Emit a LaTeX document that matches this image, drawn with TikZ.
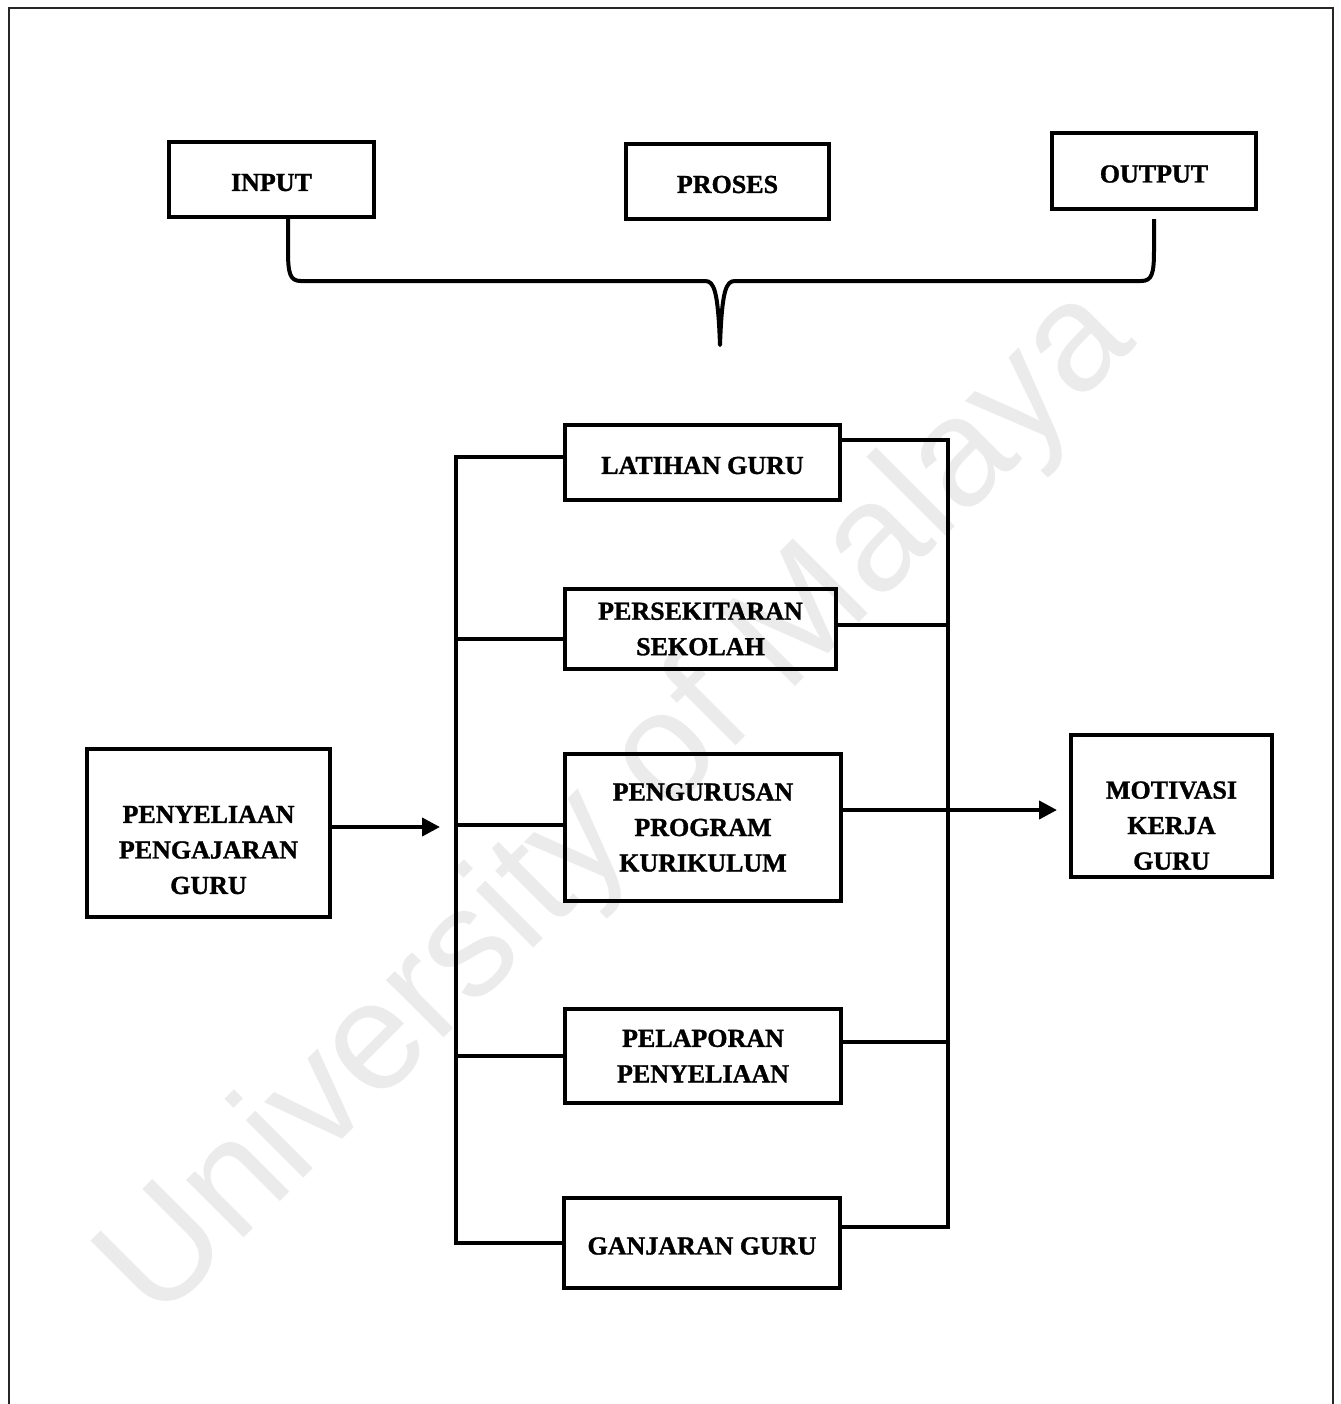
\documentclass[tikz,border=0pt]{standalone}
\usepackage{fontspec}
\setmainfont{Liberation Serif}[BoldFeatures={FakeBold=1.2}]
\newfontfamily\wmfont{Liberation Sans}
\usetikzlibrary{arrows.meta,calc}
% strut that lowers the first text line a little inside its box
\newcommand\boxstrut{\rule{0pt}{11.6pt}}
\begin{document}
\begin{tikzpicture}[x=0.5pt,y=-0.5pt,
  boxtext/.style={align=center,font=\fontsize{13}{17.75}\selectfont\bfseries},
  box/.style={draw,line width=2pt,inner sep=0pt,boxtext,execute at begin node=\boxstrut},
  bus/.style={line width=2pt,line join=miter},
  arr/.style={line width=2pt,-{Triangle[length=9pt,width=9pt]}},
  brace/.style={line width=2pt,line join=round},
  frame/.style={line width=1pt,draw=black!85}]
\useasboundingbox (0,0) rectangle (1340,1404);

% faint diagonal watermark behind everything
\node[font=\wmfont\fontsize{77}{77}\selectfont,text=black!8,rotate=45,
      anchor=base,inner sep=0pt] (wm) at (648,834) {University of Malaya};

% page frame (open at the bottom)
\draw[frame] (9,1410) -- (9,8) -- (1333,8) -- (1333,1410);

% top row
\node[box,minimum width=102.5pt,minimum height=37.5pt] (inp) at (271.5,179.5) {INPUT};
\node[box,minimum width=101.5pt,minimum height=37.5pt] (pro) at (727.5,181.5) {PROSES};
\node[box,minimum width=102pt,minimum height=38pt] (out) at (1154,171) {OUTPUT};

% grouping brace under the top row
\coordinate (bs) at ([xshift=8.25pt]inp.south);
\coordinate (be) at ([yshift=-4pt]out.south);
\coordinate (tip) at (720,345);
\draw[brace] (bs) -- (288,250) .. controls (288,274) and (290,281) .. (301,281)
  -- (705,281) .. controls (714,281) and (718,290) .. (tip)
  .. controls (722,290) and (726,281) .. (735,281)
  -- (1141,281) .. controls (1152,281) and (1154,274) .. (1154,250) -- (be);

% middle column
\node[box,minimum width=137.5pt,minimum height=37.5pt] (lat) at (702.5,462.5) {LATIHAN GURU};
\node[box,minimum width=135.5pt,minimum height=40pt] (per) at (700.5,629) {PERSEKITARAN\\SEKOLAH};
\node[box,minimum width=138pt,minimum height=73.5pt] (pgr) at (703,827.5) {PENGURUSAN\\PROGRAM\\KURIKULUM};
\node[box,minimum width=138pt,minimum height=47pt] (pel) at (703,1056) {PELAPORAN\\PENYELIAAN};
\node[box,minimum width=138pt,minimum height=45pt] (gan) at (702,1243) {GANJARAN GURU};

% side boxes
\node[box,minimum width=121.5pt,minimum height=84pt,
      label={[boxtext,yshift=-8.5pt]center:{PENYELIAAN\\PENGAJARAN\\GURU}}] (pen) at (208.5,833) {};
\node[box,minimum width=100.5pt,minimum height=71pt,
      label={[boxtext,yshift=-9.8pt]center:{MOTIVASI\\KERJA\\GURU}}] (mot) at (1171.5,806) {};

% left bus
\coordinate (l1) at (456,457);
\coordinate (l2) at (456,639);
\coordinate (l3) at (456,825);
\coordinate (l4) at (456,1056);
\coordinate (l5) at (456,1243);
\draw[bus] (lat.west |- l1) -- (l1) -- (l5) -- (gan.west |- l5);
\draw[bus] (l2) -- (per.west |- l2);
\draw[bus] (l3) -- (pgr.west |- l3);
\draw[bus] (l4) -- (pel.west |- l4);

% right bus
\coordinate (r1) at (948,440);
\coordinate (r2) at (948,625);
\coordinate (r3) at (948,810);
\coordinate (r4) at (948,1042);
\coordinate (r5) at (948,1227);
\draw[bus] (lat.east |- r1) -- (r1) -- (r5) -- (gan.east |- r5);
\draw[bus] (per.east |- r2) -- (r2);
\draw[bus] (pgr.east |- r3) -- (r3);
\draw[bus] (pel.east |- r4) -- (r4);

% arrows in and out
\coordinate (la) at (440,827);
\coordinate (ra) at (1057,810);
\draw[arr] (pen.east |- la) -- (la);
\draw[arr] (r3) -- (ra);
\end{tikzpicture}
\end{document}
